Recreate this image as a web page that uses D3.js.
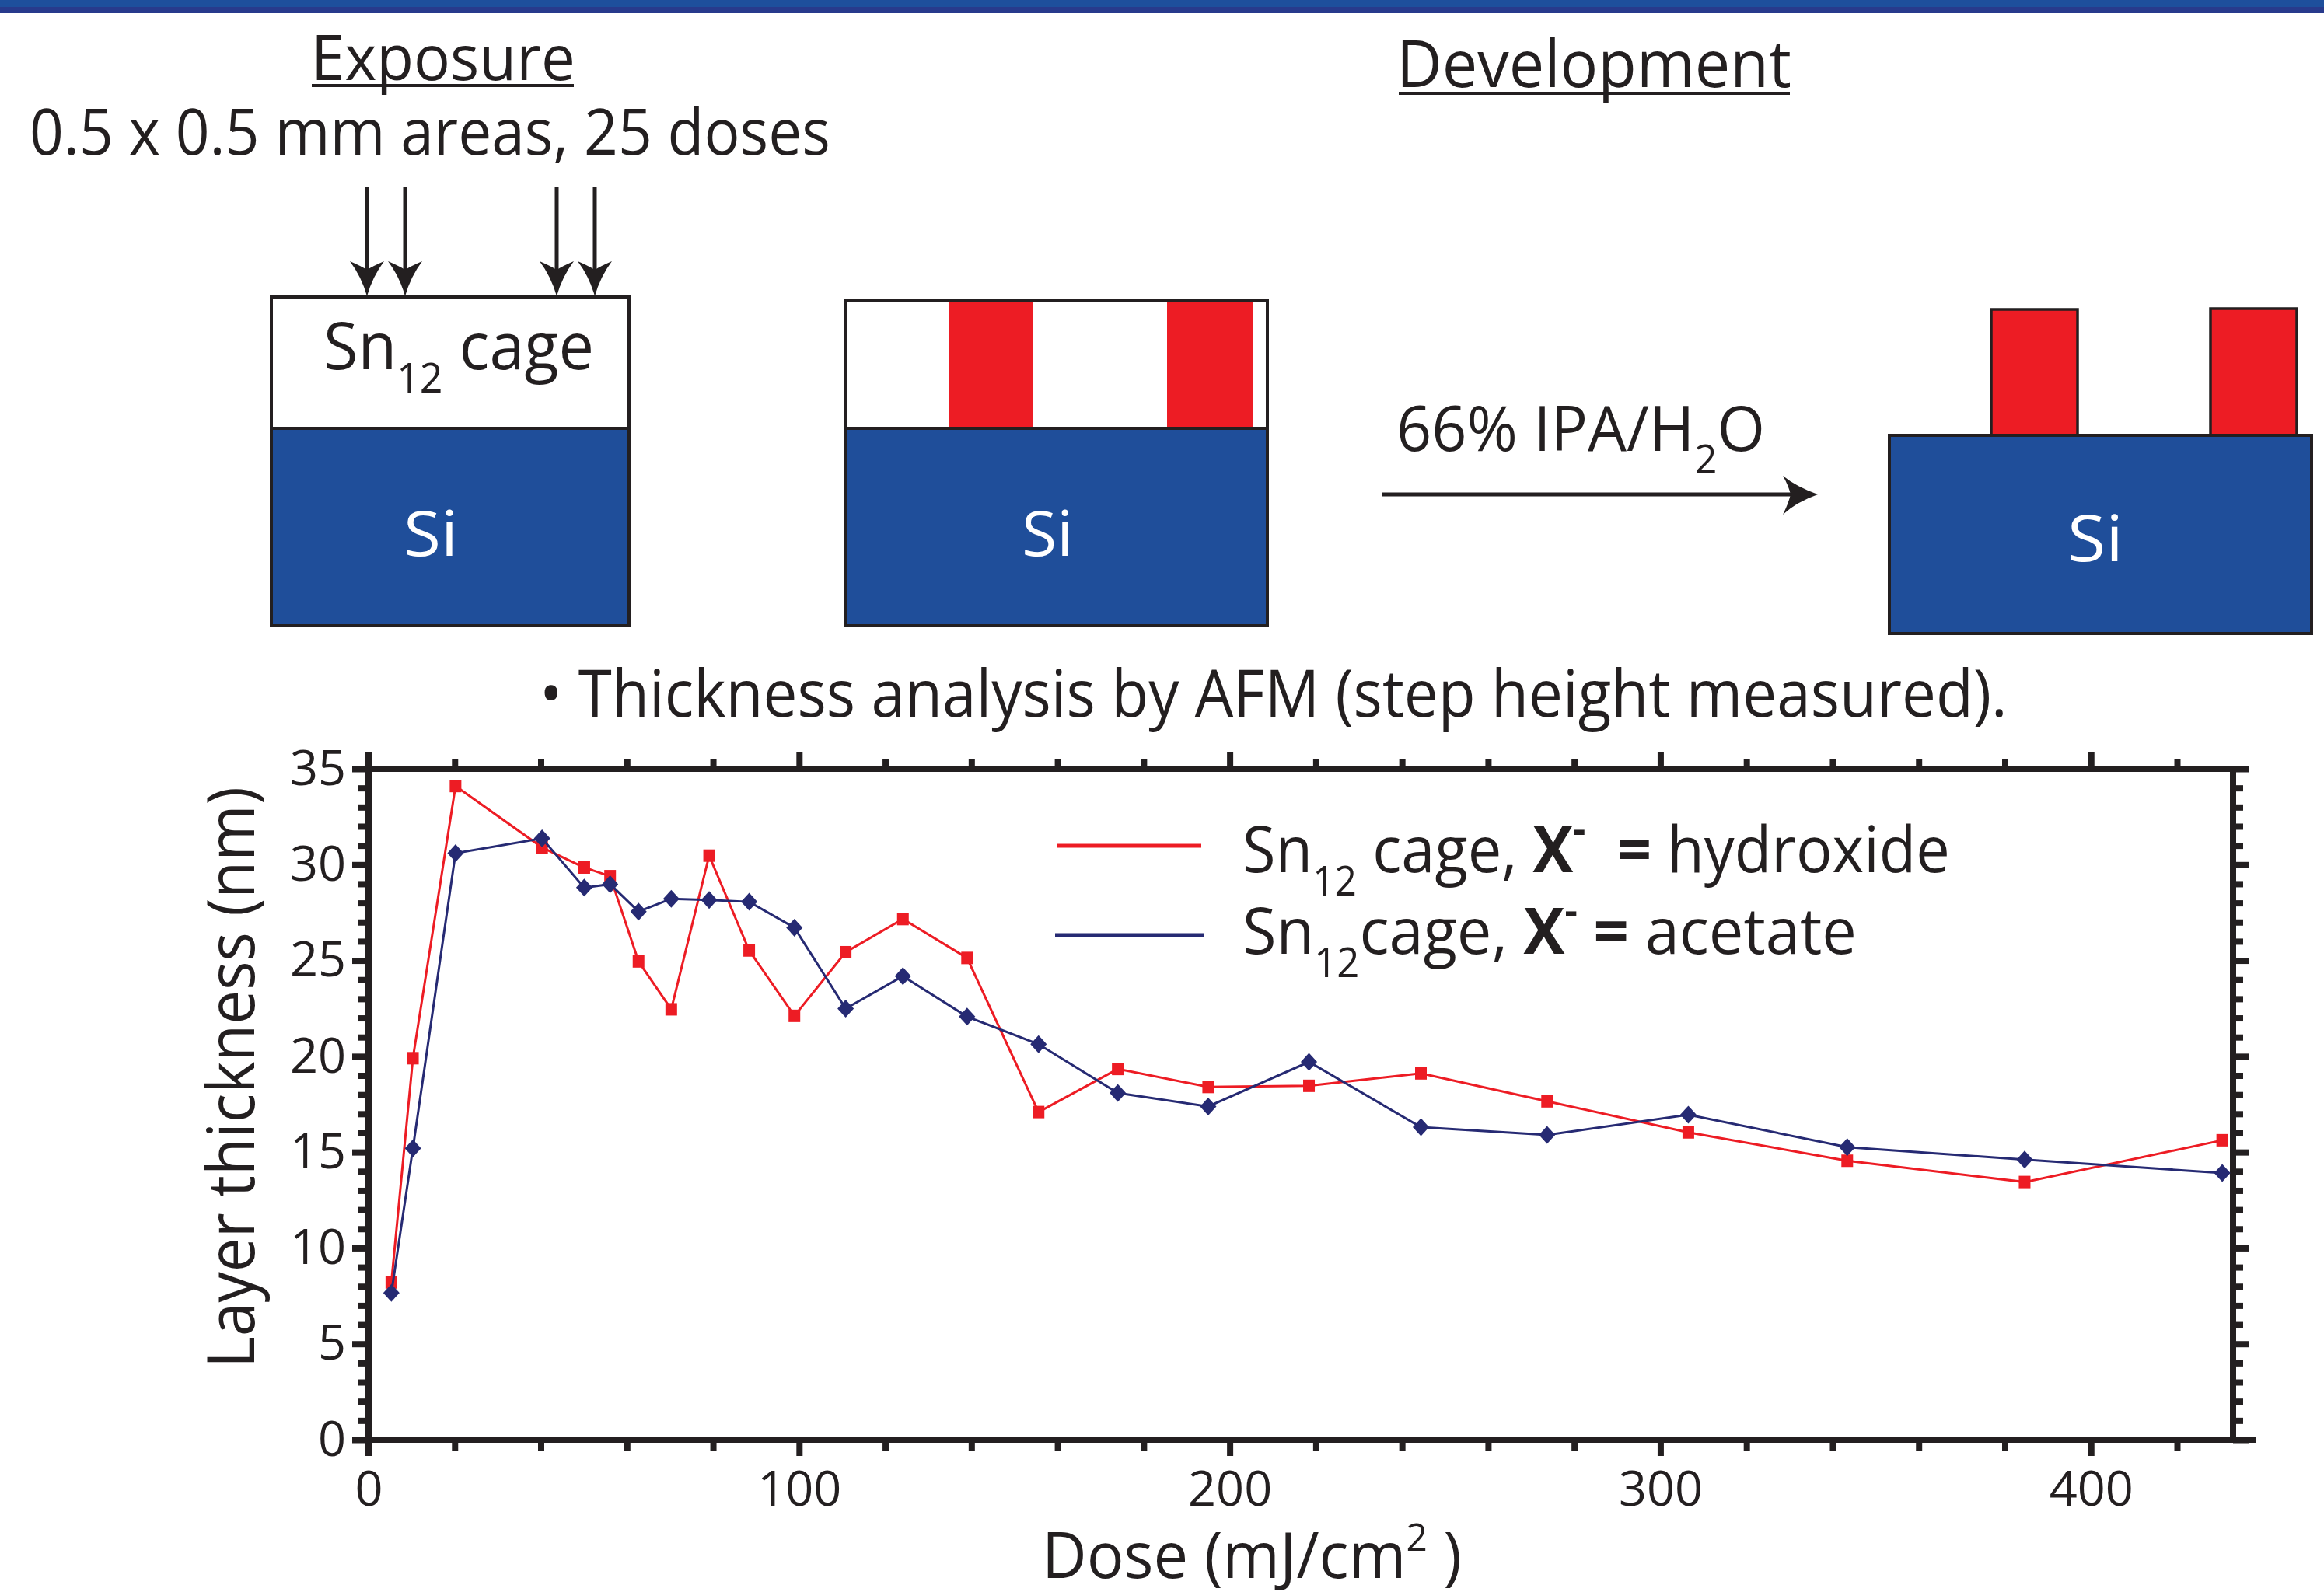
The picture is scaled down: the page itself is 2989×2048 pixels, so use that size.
<!DOCTYPE html>
<html><head><meta charset="utf-8">
<script src="https://cdn.jsdelivr.net/npm/d3@7"></script>
<style>
body{margin:0;background:#fff}
svg text{font-family:'Open Sans',sans-serif}
</style>
</head><body>
<svg id="c" width="2989" height="2048" xmlns="http://www.w3.org/2000/svg"></svg>
<script>
// ---------------- data ----------------
const doses = [5.3, 10.3, 20.2, 40.3, 50.1, 56.1, 62.7, 70.3, 79.1, 88.4, 98.9, 110.8, 124.1, 139.0, 155.6, 174.0, 195.0, 218.4, 244.4, 273.7, 306.5, 343.4, 384.6, 430.5];
const hydroxide = [8.2, 19.9, 34.1, 30.9, 29.85, 29.4, 24.95, 22.45, 30.47, 25.52, 22.11, 25.43, 27.16, 25.13, 17.09, 19.34, 18.4, 18.46, 19.11, 17.65, 16.03, 14.55, 13.44, 15.62];
const acetate = [7.66, 15.2, 30.6, 31.37, 28.8, 28.98, 27.55, 28.22, 28.16, 28.06, 26.71, 22.49, 24.18, 22.07, 20.63, 18.09, 17.38, 19.71, 16.30, 15.9, 16.95, 15.26, 14.61, 13.91];
const xTickValues = [0, 100, 200, 300, 400];
const yTickValues = [0, 5, 10, 15, 20, 25, 30, 35];
const xMinorValues = [20, 40, 60, 80, 120, 140, 160, 180, 220, 240, 260, 280, 320, 340, 360, 380, 420];
const yMinorValues = d3.range(0, 36).filter(v => v % 5 !== 0);

// ---------------- setup ----------------
const svg = d3.select('#c');
const INK = '#231f20', SI = '#1f4e9a', RED = '#ed1c24', NAVY = '#262a73';

function fitText(parts, o) {
  const g = svg.append('g');
  const t = g.append('text').attr('font-size', o.size).attr('fill', o.fill || INK)
    .attr('text-anchor', o.anchor || 'start').style('white-space', 'pre');
  let cur = 0;
  parts.forEach(p => {
    if (typeof p === 'string') p = {t: p};
    const off = p.sub ? o.size * 0.36 : p.sup ? -o.size * (p.shift || 0.38) : 0;
    const ts = t.append('tspan').text(p.t).attr('dy', off - cur);
    cur = off;
    if (p.sub || p.sup) ts.attr('font-size', o.size * (p.scale || 0.64));
    if (p.bold) ts.attr('font-weight', 700);
  });
  const w = t.node().getComputedTextLength();
  const sx = o.width ? o.width / w : 1;
  g.attr('transform', `translate(${o.x},${o.y})${o.rotate ? ` rotate(${o.rotate})` : ''} scale(${sx},1)`);
  return g;
}

// top band
svg.append('rect').attr('x', 0).attr('y', 0).attr('width', 2989).attr('height', 10).attr('fill', '#1e4f9c');
svg.append('rect').attr('x', 0).attr('y', 9).attr('width', 2989).attr('height', 8).attr('fill', '#283a8c');

// ---------------- diagram ----------------
fitText(['Exposure'], {x: 400, y: 103, size: 81, width: 340});
svg.append('line').attr('x1', 401).attr('x2', 738).attr('y1', 110).attr('y2', 110).attr('stroke', INK).attr('stroke-width', 4);
fitText(['0.5 x 0.5 mm areas, 25 doses'], {x: 38, y: 199, size: 83, width: 1030});
fitText(['Development'], {x: 1796, y: 112, size: 84, width: 508});
svg.append('line').attr('x1', 1799).attr('x2', 2302).attr('y1', 120).attr('y2', 120).attr('stroke', INK).attr('stroke-width', 4);

// down arrows
[472, 521, 716, 765].forEach(ax => {
  svg.append('line').attr('x1', ax).attr('x2', ax).attr('y1', 240).attr('y2', 350).attr('stroke', INK).attr('stroke-width', 5);
  svg.append('path').attr('fill', INK)
    .attr('d', `M${ax},381 Q${ax - 7},356 ${ax - 22},336 Q${ax - 8},342 ${ax},347 Q${ax + 8},342 ${ax + 22},336 Q${ax + 7},356 ${ax},381 Z`);
});

// box 1
svg.append('rect').attr('x', 349).attr('y', 382).attr('width', 460).attr('height', 169).attr('fill', '#fff').attr('stroke', INK).attr('stroke-width', 4);
svg.append('rect').attr('x', 349).attr('y', 551).attr('width', 460).attr('height', 254).attr('fill', SI).attr('stroke', INK).attr('stroke-width', 4);
fitText(['Sn', {t: '12', sub: true}, ' cage'], {x: 416, y: 475, size: 84, width: 348});
fitText(['Si'], {x: 519, y: 715, size: 81, fill: '#fff', width: 70});

// box 2
svg.append('rect').attr('x', 1087).attr('y', 387).attr('width', 543).attr('height', 164).attr('fill', '#fff').attr('stroke', INK).attr('stroke-width', 4);
svg.append('rect').attr('x', 1220).attr('y', 389).attr('width', 109).attr('height', 161).attr('fill', RED);
svg.append('rect').attr('x', 1501).attr('y', 389).attr('width', 110).attr('height', 161).attr('fill', RED);
svg.append('rect').attr('x', 1087).attr('y', 551).attr('width', 543).attr('height', 254).attr('fill', SI).attr('stroke', INK).attr('stroke-width', 4);
fitText(['Si'], {x: 1314, y: 715, size: 81, fill: '#fff', width: 66});

// development arrow
fitText(['66% IPA/H', {t: '2', sub: true}, 'O'], {x: 1796, y: 580, size: 81, width: 474});
svg.append('line').attr('x1', 1778).attr('x2', 2305).attr('y1', 636).attr('y2', 636).attr('stroke', INK).attr('stroke-width', 5);
svg.append('path').attr('fill', INK)
  .attr('d', 'M2338,636 Q2310,646 2293,662 Q2300,648 2303,636 Q2300,624 2293,612 Q2310,626 2338,636 Z');

// box 3
svg.append('rect').attr('x', 2561).attr('y', 398).attr('width', 111).attr('height', 162).attr('fill', RED).attr('stroke', INK).attr('stroke-width', 3.5);
svg.append('rect').attr('x', 2843).attr('y', 397).attr('width', 111).attr('height', 163).attr('fill', RED).attr('stroke', INK).attr('stroke-width', 3.5);
svg.append('rect').attr('x', 2430).attr('y', 560).attr('width', 543).attr('height', 255).attr('fill', SI).attr('stroke', INK).attr('stroke-width', 4);
fitText(['Si'], {x: 2659, y: 722, size: 83, fill: '#fff', width: 72});

// ---------------- chart ----------------
fitText(['\u2022 Thickness analysis by AFM (step height measured).'], {x: 694, y: 922, size: 85, width: 1888});

const x = d3.scaleLinear().domain([0, 433]).range([474, 2872]);
const y = d3.scaleLinear().domain([0, 35]).range([1852, 989]);

function axisG(axis, tx, ty) {
  const g = svg.append('g').attr('transform', `translate(${tx},${ty})`).call(axis);
  g.select('.domain').remove();
  g.selectAll('line').attr('stroke', INK).attr('stroke-width', 8);
  g.selectAll('text').attr('font-family', "'Open Sans',sans-serif").attr('font-size', 63).attr('fill', INK);
  return g;
}
const [x0, x1] = x.range();
const [yb, yt] = y.range();

axisG(d3.axisBottom(x).tickValues(xTickValues).tickSize(21).tickPadding(19).tickFormat(d3.format('d')), 0, yb);
axisG(d3.axisBottom(x).tickValues(xMinorValues).tickSize(14).tickFormat(''), 0, yb);
axisG(d3.axisTop(x).tickValues(xTickValues.filter(v => v > 0)).tickSize(22).tickFormat(''), 0, yt);
axisG(d3.axisTop(x).tickValues(xMinorValues).tickSize(13).tickFormat(''), 0, yt);
axisG(d3.axisLeft(y).tickValues(yTickValues).tickSize(21).tickPadding(8).tickFormat(d3.format('d')), x0, 0);
axisG(d3.axisLeft(y).tickValues(yMinorValues).tickSize(13).tickFormat(''), x0, 0);
axisG(d3.axisRight(y).tickValues(yTickValues).tickSize(20).tickFormat(''), x1, 0);
axisG(d3.axisRight(y).tickValues(yMinorValues).tickSize(13).tickFormat(''), x1, 0);

// frame
const frame = svg.append('g').attr('stroke', INK).attr('stroke-width', 8);
frame.append('line').attr('x1', x0).attr('x2', x0).attr('y1', yt - 21).attr('y2', yb + 21);
frame.append('line').attr('x1', x0 - 21).attr('x2', x1 + 29).attr('y1', yb).attr('y2', yb);
frame.append('line').attr('x1', x0 - 21).attr('x2', x1 + 21).attr('y1', yt).attr('y2', yt);
frame.append('line').attr('x1', x1).attr('x2', x1).attr('y1', yt - 4).attr('y2', yb + 4);

// series
const redData = doses.map((d, i) => ({d, v: hydroxide[i]}));
const blueData = doses.map((d, i) => ({d, v: acetate[i]}));
const line = d3.line().x(p => x(p.d)).y(p => y(p.v));

svg.append('path').datum(redData).attr('d', line).attr('fill', 'none').attr('stroke', RED).attr('stroke-width', 3);
svg.append('g').selectAll('rect').data(redData).join('rect')
  .attr('x', p => x(p.d) - 7.5).attr('y', p => y(p.v) - 8).attr('width', 15).attr('height', 16).attr('fill', RED);

svg.append('path').datum(blueData).attr('d', line).attr('fill', 'none').attr('stroke', NAVY).attr('stroke-width', 3);
svg.append('g').selectAll('path').data(blueData).join('path')
  .attr('d', p => { const cx = x(p.d), cy = y(p.v); return `M${cx},${cy - 11.5}L${cx + 10.5},${cy}L${cx},${cy + 11.5}L${cx - 10.5},${cy}Z`; })
  .attr('fill', NAVY);

// legend
svg.append('line').attr('x1', 1360).attr('x2', 1545).attr('y1', 1088).attr('y2', 1088).attr('stroke', RED).attr('stroke-width', 5);
svg.append('line').attr('x1', 1357).attr('x2', 1549).attr('y1', 1203).attr('y2', 1203).attr('stroke', NAVY).attr('stroke-width', 5);
fitText(['Sn', {t: '12', sub: true}, ' cage, ', {t: 'X', bold: true}, {t: '-', sup: true, bold: true, shift: 0.45}, {t: '  = ', bold: true}, 'hydroxide'],
  {x: 1598, y: 1122, size: 83, width: 910});
fitText(['Sn', {t: '12', sub: true}, 'cage, ', {t: 'X', bold: true}, {t: '-', sup: true, bold: true, shift: 0.45}, {t: ' = ', bold: true}, 'acetate'],
  {x: 1598, y: 1227, size: 83, width: 790});

// axis titles
fitText(['Layer thickness (nm)'], {x: 327, y: 1386, size: 84, anchor: 'middle', rotate: -90, width: 748});
fitText(['Dose (mJ/cm', {t: '2', sup: true, shift: 0.42, scale: 0.6}, ' )'], {x: 1340, y: 2030, size: 83, width: 540});
</script>
</body></html>
